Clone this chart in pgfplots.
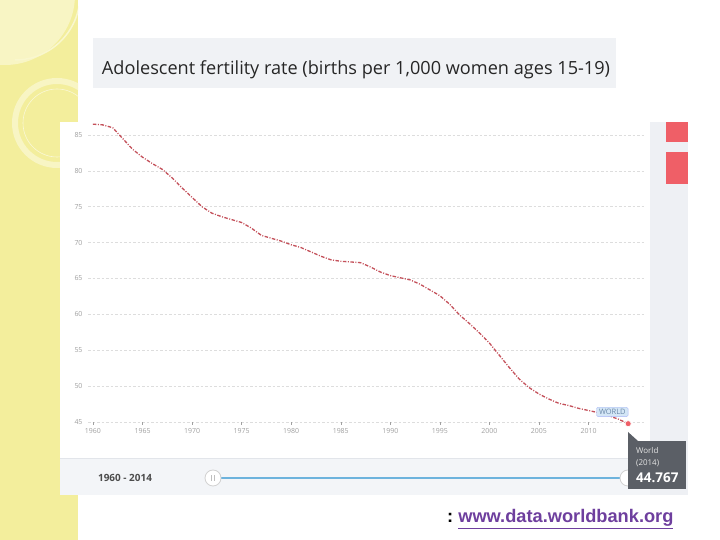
\documentclass[border=0pt]{standalone}
\usepackage{pgfplots}
\pgfplotsset{compat=1.18}
\usepackage{fontspec}
\setmainfont{Open Sans}
\newfontfamily\arial{Liberation Sans}
\definecolor{stripY}{HTML}{F3EE9C}
\definecolor{stripL}{HTML}{F8F5C4}
\definecolor{titlebg}{HTML}{F0F2F5}
\definecolor{band}{HTML}{F3F5F8}
\definecolor{side}{HTML}{EEF0F4}
\definecolor{bandline}{HTML}{E2E5EA}
\definecolor{lineC}{HTML}{C4505A}
\definecolor{redbox}{HTML}{EF5F67}
\definecolor{tipbg}{HTML}{5B5F66}
\definecolor{blueS}{HTML}{6DB3DD}
\definecolor{worldbg}{HTML}{D4E6F6}
\definecolor{worldtx}{HTML}{6A88A8}
\definecolor{linkC}{HTML}{6E3F9E}
\definecolor{tickC}{HTML}{A0A0A0}
\definecolor{gridC}{HTML}{DDDDDD}
\begin{document}
\begin{tikzpicture}[x=1bp,y=1bp]
\path[use as bounding box] (0,0) rectangle (720,540);
\fill[white] (0,0) rectangle (720,540);
% left decorative strip
\begin{scope}
\clip (0,0) rectangle (78,540);
\fill[stripY] (0,0) rectangle (78,540);
\fill[stripL] (5,545) circle (70);
\draw[stripL, line width=6bp] (57,417) circle (42);
\draw[white!60!stripY, line width=0.6bp] (57,417) circle (34);
\draw[white!50!stripY, line width=1.5bp] (80,545) arc (0:-90:65);
\end{scope}
% title box
\fill[titlebg] (93,452) rectangle (616,502);
\node[anchor=base, text=black!85, inner sep=0pt] at (356,465)
  {\fontsize{18.2}{20}\selectfont Adolescent fertility rate (births per 1,000 women ages 15-19)};
% chart panel
\fill[white] (60,45) rectangle (650,418);
\fill[band] (60,45) rectangle (650,82);
\draw[bandline, line width=0.8bp] (60,82) -- (650,82);
\fill[side] (650,45) rectangle (688,418);
\fill[redbox] (666,398) rectangle (688,418);
\fill[redbox] (666,356) rectangle (688,388);
% slider
\node[text=black!70, inner sep=0pt] at (125,62) {\fontsize{10}{12}\selectfont\bfseries 1960 - 2014};
\draw[blueS, line width=2.5bp] (221,62) -- (620,62);
\draw[black!18, fill=white, line width=0.8bp] (213,62) circle (8);
\draw[black!25, line width=0.5bp] (211.5,59) -- (211.5,65) (214.5,59) -- (214.5,65);
\draw[black!18, fill=white, line width=0.8bp] (628,62) circle (8);
% axis
\begin{axis}[
  at={(88bp,118bp)}, anchor=south west,
  scale only axis, width=557bp, height=301.4bp,
  xmin=1959.5, xmax=2015.7, ymin=45, ymax=87,
  axis line style={draw=none},
  xtick={1960,1965,...,2010},
  ytick={45,50,...,85},
  xtick pos=lower, ytick pos=left,
  xticklabel style={/pgf/number format/1000 sep={}},
  /pgf/number format/assume math mode=true,
  tick label style={font=\fontsize{7}{8}\selectfont, text=tickC},
  ymajorgrids, major grid style={gridC, dash pattern=on 2.5bp off 2bp, line width=0.5bp},
  xtick style={draw=tickC, line width=0.4bp}, ytick style={draw=none},
  tick align=outside, major tick length=3bp,
  yticklabel style={xshift=1bp},
  clip=false,
]
\addplot[lineC, line width=1.3bp, dash pattern=on 3.5bp off 1.5bp on 1bp off 1.5bp] coordinates {
(1960,86.5)(1961,86.4)(1962,86.0)(1963,84.5)(1964,83.0)(1965,81.9)(1966,81.0)
(1967,80.2)(1968,79.0)(1969,77.6)(1970,76.3)(1971,75.0)(1972,74.1)(1973,73.6)
(1974,73.2)(1975,72.8)(1976,72.0)(1977,71.0)(1978,70.6)(1979,70.2)(1980,69.7)
(1981,69.3)(1982,68.7)(1983,68.1)(1984,67.6)(1985,67.4)(1986,67.3)(1987,67.2)
(1988,66.6)(1989,65.9)(1990,65.4)(1991,65.1)(1992,64.8)(1993,64.2)(1994,63.4)
(1995,62.6)(1996,61.4)(1997,59.9)(1998,58.7)(1999,57.4)(2000,56.0)(2001,54.3)
(2002,52.6)(2003,51.0)(2004,49.8)(2005,48.9)(2006,48.2)(2007,47.6)(2008,47.3)
(2009,46.9)(2010,46.6)(2011,46.3)(2012,45.9)(2013,45.4)(2014,44.767)};
\addplot[only marks, mark=*, mark size=3bp, mark options={fill=redbox, draw=white, line width=0.6bp}] coordinates {(2014,44.767)};
\node[fill=worldbg, draw=worldbg!80!blue, rounded corners=1.5bp, inner xsep=2.5bp, inner ysep=2bp,
  text=worldtx, font=\fontsize{7.5}{8}\selectfont] at (axis cs:2012.4,46.4) {WORLD};
\end{axis}
% tooltip
\fill[tipbg] (628,51) rectangle (686,99);
\fill[tipbg] (628,99) -- (628,108) -- (638,99) -- cycle;
\node[anchor=base west, text=white!80!gray, inner sep=0pt] at (636,86) {\fontsize{8}{9}\selectfont World};
\node[anchor=base west, text=white!80!gray, inner sep=0pt] at (636,74) {\fontsize{8}{9}\selectfont (2014)};
\node[anchor=base west, text=white, inner sep=0pt] at (636,57) {\fontsize{13.5}{15}\selectfont\bfseries 44.767};
% source
\node[anchor=base west, inner sep=0pt] at (447,17) {\arial\fontsize{18.3}{20}\selectfont\bfseries :\ \textcolor{linkC}{\underline{www.data.worldbank.org}}};
\end{tikzpicture}
\end{document}
